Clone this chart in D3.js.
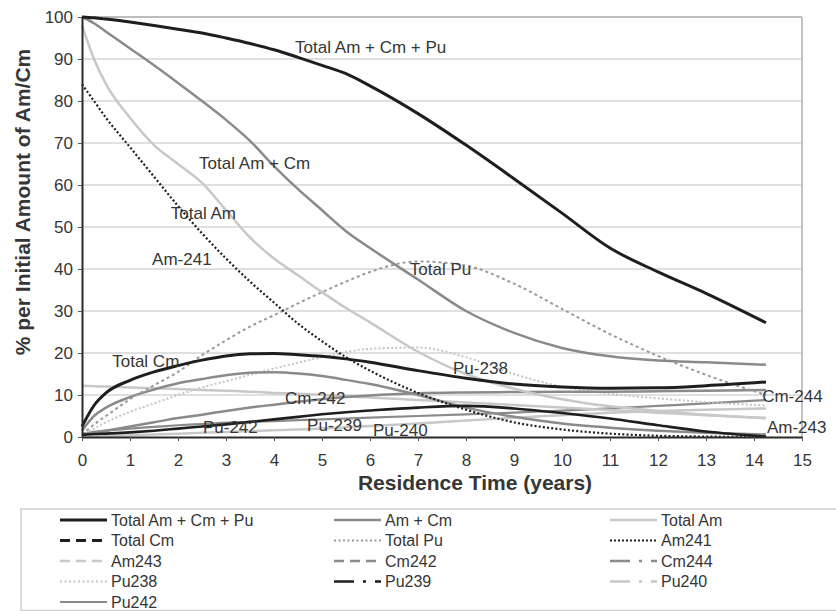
<!DOCTYPE html>
<html>
<head>
<meta charset="utf-8">
<script src="https://cdn.jsdelivr.net/npm/d3@7"></script>
<style>
  body { margin: 0; background: #fff; }
  svg text { font-family: "Liberation Sans", Arial, sans-serif; fill: #363636; }
</style>
</head>
<body>
<svg id="chart" width="836" height="611"></svg>
<script>
// Residence time samples (years)
const years = [0, 0.25, 0.5, 1, 1.5, 2, 2.5, 3, 3.5, 4, 4.5, 5, 5.5, 6, 7, 8, 9, 10, 11, 12, 13, 14.25];

// Percent of the initial Am/Cm inventory
const totalAmCmPu = [100, 99.8, 99.5, 98.8, 98, 97.1, 96.2, 95, 93.7, 92.2, 90.4, 88.5, 86.5, 83.6, 77, 69.5, 61.5, 53.3, 45, 39.3, 34.2, 27.2];
const amCm        = [100, 98.5, 96.5, 92.5, 88.5, 84.3, 80, 75.5, 70.5, 64.5, 59, 54, 49, 45, 37.5, 30, 24.8, 21.2, 19.2, 18.2, 17.8, 17.2];
const totalAm     = [98, 90, 84, 76, 69.5, 65, 60.5, 54, 47.5, 42.5, 38.5, 34.5, 30.7, 27.3, 20.3, 15, 11.5, 9, 7.3, 6.2, 5.3, 4.5];
const totalCm     = [2.5, 7.5, 10.5, 13.5, 15.5, 17, 18.3, 19.3, 19.8, 19.9, 19.6, 19.2, 18.6, 17.8, 15.8, 14, 12.6, 11.9, 11.6, 11.7, 12.2, 13.1];
const totalPu     = [0.5, 3, 5, 9, 12.3, 15.5, 19.5, 23, 26.3, 29, 31.8, 34.5, 37, 39.3, 41.8, 40.8, 36.5, 30.5, 24.5, 19.3, 14.8, 10];
const am241       = [84, 80, 76, 69, 62, 55, 48.5, 42.5, 37, 32, 27, 22.8, 19, 15.8, 10.5, 6.5, 3.5, 1.8, 0.8, 0.3, 0.1, 0];
const am243       = [12.2, 12.1, 12, 11.8, 11.6, 11.4, 11.2, 11, 10.8, 10.5, 10.3, 10, 9.7, 9.4, 8.8, 8.2, 7.6, 7, 6.4, 5.8, 5.2, 4.5];
const cm242       = [1.5, 5, 7, 9.5, 11.3, 12.8, 13.8, 14.7, 15.3, 15.4, 15.1, 14.5, 13.6, 12.6, 10, 7, 4.8, 3.2, 2.2, 1.5, 1, 0.6];
const cm244       = [0.5, 1, 1.5, 2.5, 3.5, 4.5, 5.3, 6.2, 7, 7.7, 8.4, 9, 9.5, 9.9, 10.4, 10.6, 10.7, 10.8, 10.8, 10.9, 11, 11.2];
const pu238       = [0.3, 2, 3.5, 6, 8, 10, 11.8, 13.3, 14.8, 16.3, 17.7, 19, 20.2, 21, 21.3, 19, 15, 12, 10.3, 9.2, 8.3, 7.5];
const pu239       = [0.5, 0.7, 0.8, 1.1, 1.5, 2, 2.5, 3, 3.6, 4.2, 4.8, 5.4, 5.9, 6.3, 7, 7.4, 6.8, 5.7, 4.4, 2.8, 1.3, 0.1];
const pu240       = [0, 0.1, 0.2, 0.4, 0.6, 0.8, 1, 1.2, 1.4, 1.6, 1.8, 2, 2.3, 2.6, 3.2, 3.9, 4.6, 5.2, 5.8, 6.2, 6.5, 6.8];
const pu242       = [0.8, 1.2, 1.5, 2, 2.4, 2.8, 3.1, 3.4, 3.6, 3.8, 4, 4.2, 4.4, 4.6, 5, 5.4, 5.8, 6.3, 6.8, 7.4, 8, 8.8];

// Axis ticks
const xTicks = d3.range(0, 16);
const yTicks = d3.range(0, 101, 10);

// Legend order (row by row, three columns)
const seriesNames = ["Total Am + Cm + Pu", "Am + Cm", "Total Am", "Total Cm", "Total Pu", "Am241",
                     "Am243", "Cm242", "Cm244", "Pu238", "Pu239", "Pu240", "Pu242"];
const seriesValues = [totalAmCmPu, amCm, totalAm, totalCm, totalPu, am241,
                      am243, cm242, cm244, pu238, pu239, pu240, pu242];

// Labels written beside the curves: text and the (years, %) spot they sit at
const curveLabels = ["Total Am + Cm + Pu", "Total Am + Cm", "Total Am", "Am-241", "Total Pu", "Total Cm",
                     "Pu-238", "Cm-242", "Cm-244", "Am-243", "Pu-242", "Pu-239", "Pu-240"];
const curveLabelYears = [4.44, 2.44, 1.85, 1.46, 6.83, 0.63, 7.73, 4.23, 14.17, 14.27, 2.52, 4.69, 6.06];
const curveLabelPct   = [92.9, 65.2, 53.3, 42.4, 40.0, 18.1, 16.4, 9.3, 9.8, 2.4, 2.4, 2.9, 1.7];

// Stroke styles: legend swatch and plotted curve
const BLACK = "#1e1e1e", GREY = "#8a8a8a", LIGHT = "#c8c8c8";
const styles = {
  "Total Am + Cm + Pu": { color: BLACK, width: 3,   legendDash: null,        plotDash: null },
  "Am + Cm":            { color: GREY,  width: 2.5, legendDash: null,        plotDash: null },
  "Total Am":           { color: LIGHT, width: 2.5, legendDash: null,        plotDash: null },
  "Total Cm":           { color: BLACK, width: 3,   legendDash: "10,6",      plotDash: null },
  "Total Pu":           { color: "#9a9a9a", width: 2, legendDash: "2,2.5",   plotDash: "3,3" },
  "Am241":              { color: BLACK, width: 2.2, legendDash: "2,2",       plotDash: "2,2.2" },
  "Am243":              { color: LIGHT, width: 2.5, legendDash: "10,6",      plotDash: null },
  "Cm242":              { color: GREY,  width: 2.5, legendDash: "10,6",      plotDash: null },
  "Cm244":              { color: GREY,  width: 2.5, legendDash: "20,9,3,9",  plotDash: null },
  "Pu238":              { color: "#c4c4c4", width: 2, legendDash: "2,2.5",   plotDash: "2,2.2" },
  "Pu239":              { color: BLACK, width: 2.6, legendDash: "20,9,3,9",  plotDash: null },
  "Pu240":              { color: LIGHT, width: 2.5, legendDash: "20,9,3,9",  plotDash: null },
  "Pu242":              { color: GREY,  width: 2.2, legendDash: null,        plotDash: null }
};

const svg = d3.select("#chart");
const plot = { left: 82, right: 802, top: 17, bottom: 437 };

const x = d3.scaleLinear().domain([0, 15]).range([plot.left, plot.right]);
const y = d3.scaleLinear().domain([0, 100]).range([plot.bottom, plot.top]);

// Horizontal gridlines
svg.append("g")
  .selectAll("line")
  .data(yTicks.filter(d => d > 0))
  .join("line")
  .attr("x1", plot.left).attr("x2", plot.right)
  .attr("y1", d => y(d)).attr("y2", d => y(d))
  .attr("stroke", d => d === 100 ? "#bdbdbd" : "#d6d6d6")
  .attr("stroke-width", d => d === 100 ? 2 : 1.6);

// Right frame
svg.append("line")
  .attr("x1", plot.right).attr("x2", plot.right)
  .attr("y1", plot.top).attr("y2", plot.bottom)
  .attr("stroke", "#c4c4c4").attr("stroke-width", 2);

// Curves
const line = d3.line()
  .x((d, i) => x(years[i]))
  .y(d => y(d))
  .curve(d3.curveMonotoneX);

const drawOrder = ["Pu242", "Pu240", "Pu238", "Am243", "Cm244", "Cm242", "Total Pu",
                   "Total Am", "Am + Cm", "Pu239", "Am241", "Total Cm", "Total Am + Cm + Pu"];
svg.append("g")
  .selectAll("path")
  .data(drawOrder)
  .join("path")
  .attr("d", name => line(seriesValues[seriesNames.indexOf(name)]))
  .attr("fill", "none")
  .attr("stroke", name => styles[name].color)
  .attr("stroke-width", name => styles[name].width)
  .attr("stroke-dasharray", name => styles[name].plotDash)
  .attr("stroke-linejoin", "round");

// Axes
const yAxis = svg.append("g")
  .attr("transform", `translate(${plot.left},0)`)
  .call(d3.axisLeft(y).tickValues(yTicks).tickSize(4).tickSizeOuter(0).tickPadding(5));
const xAxis = svg.append("g")
  .attr("transform", `translate(0,${plot.bottom})`)
  .call(d3.axisBottom(x).tickValues(xTicks).tickSize(4).tickSizeOuter(0).tickPadding(13));

[yAxis, xAxis].forEach(g => {
  g.select(".domain").attr("stroke", "#2a2a2a").attr("stroke-width", 2);
  g.selectAll(".tick line").attr("stroke", "#555").attr("stroke-width", 1);
  g.selectAll(".tick text").attr("font-size", 17).attr("fill", "#363636");
});

// Axis titles
svg.append("text")
  .attr("x", 475).attr("y", 490)
  .attr("text-anchor", "middle")
  .attr("font-size", 21).attr("font-weight", "bold")
  .attr("fill", "#2a2a2a")
  .text("Residence Time (years)");

svg.append("text")
  .attr("transform", "translate(30,202) rotate(-90)")
  .attr("text-anchor", "middle")
  .attr("font-size", 21).attr("font-weight", "bold")
  .attr("fill", "#2a2a2a")
  .text("% per Initial Amount of Am/Cm");

// Curve labels
svg.append("g")
  .selectAll("text")
  .data(curveLabels)
  .join("text")
  .attr("x", (d, i) => x(curveLabelYears[i]))
  .attr("y", (d, i) => y(curveLabelPct[i]))
  .attr("dy", "0.35em")
  .attr("font-size", 17)
  .text(d => d);

// Legend
const legend = svg.append("g");
legend.append("rect")
  .attr("x", 21).attr("y", 509)
  .attr("width", 830).attr("height", 101.5)
  .attr("fill", "#fff")
  .attr("stroke", "#cfcfcf").attr("stroke-width", 1.5);

const colX = [60, 334, 610];
const rowY0 = 520, rowStep = 20.5;
const items = legend.selectAll("g.item")
  .data(seriesNames)
  .join("g")
  .attr("class", "item")
  .attr("transform", (d, i) => `translate(${colX[i % 3]},${rowY0 + Math.floor(i / 3) * rowStep})`);

items.append("line")
  .attr("x1", 0).attr("x2", 47)
  .attr("y1", 0).attr("y2", 0)
  .attr("stroke", d => styles[d].color)
  .attr("stroke-width", d => styles[d].width)
  .attr("stroke-dasharray", d => styles[d].legendDash);

items.append("text")
  .attr("x", 51).attr("y", 0)
  .attr("dy", "0.35em")
  .attr("font-size", 16)
  .text(d => d);
</script>
</body>
</html>
